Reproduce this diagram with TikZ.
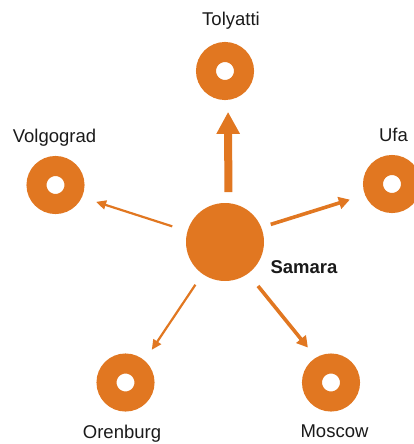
\documentclass[tikz,border=0pt]{standalone}
\usepackage{fontspec}
\setmainfont{Liberation Sans}
\usetikzlibrary{arrows.meta}
\definecolor{hub}{RGB}{225,119,33}
\definecolor{ink}{RGB}{26,26,26}
\begin{document}
\begin{tikzpicture}[x=1pt,y=-1pt,
  donut/.style={circle, draw=hub, line width=20pt, minimum size=38pt, inner sep=0pt},
  core/.style={circle, fill=hub, minimum size=78pt, inner sep=0pt, outer sep=0pt},
  city/.style={anchor=base, text=ink, inner sep=0pt, font=\fontsize{18.5}{20}\selectfont},
  flowbig/.style={draw=hub, line width=8pt, -{Triangle[length=22pt,width=22pt]}},
  flowmid/.style={draw=hub, line width=3.6pt, -{Triangle[length=11pt,width=12pt]}},
  flowthin/.style={draw=hub, line width=2.2pt, -{Triangle[length=10pt,width=9pt]}}]
\useasboundingbox (0,0) rectangle (414,444);

% central city
\node[core] (samara) at (225,242) {};
\node[city, font=\fontsize{18.5}{20}\selectfont\bfseries] (samaralbl) at (304,273) {Samara};

% surrounding cities
\node[donut] (tolyatti)  at (225,71)    {};
\node[donut] (volgograd) at (55.5,185)  {};
\node[donut] (ufa)       at (392,184)   {};
\node[donut] (orenburg)  at (125.5,382.5) {};
\node[donut] (moscow)    at (331,382.5) {};

\node[city] (tolyattilbl)  at (231,26)    {Tolyatti};
\node[city] (volgogradlbl) at (54.5,142.5) {Volgograd};
\node[city] (ufalbl)       at (393.5,141.5) {Ufa};
\node[city] (orenburglbl)  at (122,438)   {Orenburg};
\node[city] (moscowlbl)    at (334.5,437.5) {Moscow};

% flows out of the centre
\draw[flowbig, shorten <=11pt, shorten >=12pt] (samara.85.6) -- (tolyatti.-84);
\draw[flowmid, shorten <=10pt, shorten >=16pt] (samara.22.9) -- (ufa.202);
\draw[flowthin, shorten <=16pt, shorten >=15pt] (samara.164.2) -- (volgograd.-25.1);
\draw[flowthin, shorten <=13pt, shorten >=13pt] (samara.235.1) -- (orenburg.49.8);
\draw[flowmid, shorten <=16pt, shorten >=13pt] (samara.-54.6) -- (moscow.121.8);
\end{tikzpicture}
\end{document}
